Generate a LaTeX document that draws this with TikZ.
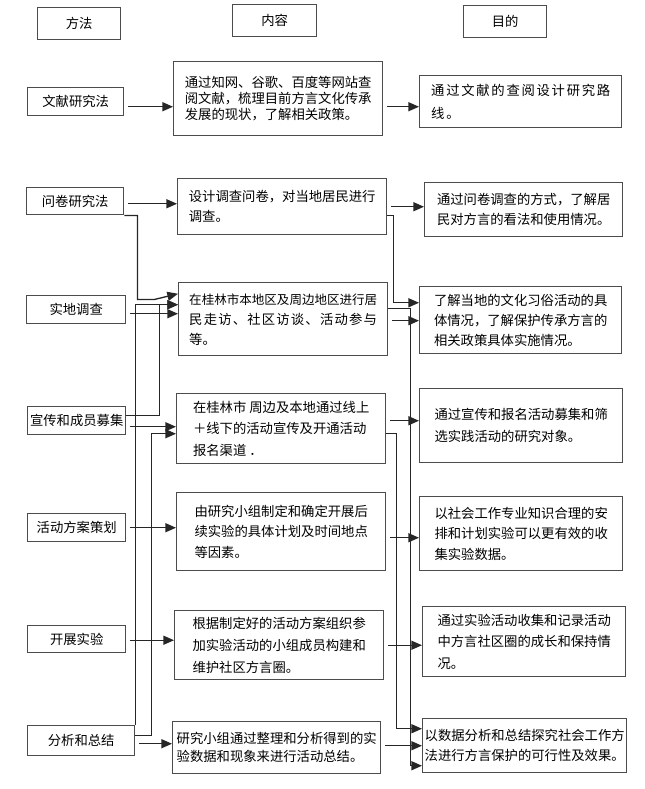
\documentclass[tikz,border=0pt]{standalone}
\usepackage{fontspec}
\setmainfont{Noto Sans CJK SC}
\usetikzlibrary{arrows.meta}
\tikzset{
  box/.style={draw=black!70,line width=1.1pt,anchor=north west,inner sep=0pt,
    align=left,font=\fontsize{10pt}{15pt}\selectfont},
  head/.style={box,align=center},
  arrow/.style={-{Triangle[length=8pt,width=6.8pt]},line width=1pt,draw=black!85},
  gap/.style={shorten <=3pt}
}

\begin{document}
\begin{tikzpicture}[x=0.75pt,y=-0.75pt]
  \useasboundingbox (0,0) rectangle (645,789);
  \node[head,minimum width=62.25pt,minimum height=24pt] (hmethod) at (37,7) {方法};
  \node[head,minimum width=63pt,minimum height=24pt] (hcontent) at (232,4) {内容};
  \node[head,minimum width=62.25pt,minimum height=24pt] (haim) at (463,5) {目的};

  \node[box,minimum width=72pt,minimum height=21pt] (lit) at (27,87) {文献研究法};
  \node[box,minimum width=156.75pt,minimum height=55.5pt,font=\fontsize{10pt}{11.8pt}\selectfont] (litwork) at (173,61)
    {通过知网、谷歌、百度等网站查\\阅文献，梳理目前方言文化传承\\发展的现状，了解相关政策。};
  \node[box,minimum width=151.5pt,minimum height=39pt,font=\fontsize{10pt}{17.25pt}\selectfont\addfontfeature{LetterSpace=13}] (litgoal) at (419,75)
    {通过文献的查阅设计研究路\\线。};

  \node[box,minimum width=72.75pt,minimum height=20.25pt] (quest) at (26,187) {问卷研究法};
  \node[box,minimum width=156.75pt,minimum height=42pt] (questwork) at (177,178)
    {设计调查问卷，对当地居民进行\\调查。};
  \node[box,minimum width=148.5pt,minimum height=40.5pt] (questgoal) at (424,182)
    {通过问卷调查的方式，了解居\\民对方言的看法和使用情况。};

  \node[box,minimum width=74.25pt,minimum height=21pt] (field) at (26,295) {实地调查};
  \node[box,minimum width=156.75pt,minimum height=54.75pt] (fieldwork) at (178,282)
    {{\fontsize{9.4pt}{15pt}\selectfont 在桂林市本地区及周边地区进行居}\\{\addfontfeature{LetterSpace=9}民走访、社区访谈、活动参与}\\等。};
  \node[box,minimum width=151.5pt,minimum height=50.25pt] (fieldgoal) at (419,286)
    {了解当地的文化习俗活动的具\\体情况，了解保护传承方言的\\相关政策具体实施情况。};

  \node[box,minimum width=73.5pt,minimum height=21pt] (recruit) at (27,406) {宣传和成员募集};
  \node[box,minimum width=156.75pt,minimum height=52.5pt,font=\fontsize{10pt}{16.3pt}\selectfont] (recruitwork) at (176,393)
    {在桂林市 周边及本地通过线上\\＋线下的活动宣传及开通活动\\报名渠道 ．};
  \node[box,minimum width=152.25pt,minimum height=55.5pt,font=\fontsize{10pt}{16.3pt}\selectfont] (recruitgoal) at (419,388)
    {通过宣传和报名活动募集和筛\\选实践活动的研究对象。};

  \node[box,minimum width=73.5pt,minimum height=21pt] (plan) at (27,513) {活动方案策划};
  \node[box,minimum width=156.75pt,minimum height=58.5pt,font=\fontsize{10pt}{15.6pt}\selectfont] (planwork) at (176,492)
    {由研究小组制定和确定开展后\\续实验的具体计划及时间地点\\等因素。};
  \node[box,minimum width=152.25pt,minimum height=55.5pt,font=\fontsize{10pt}{15.6pt}\selectfont] (plangoal) at (419,496)
    {以社会工作专业知识合理的安\\排和计划实验可以更有效的收\\集实验数据。};

  \node[box,minimum width=73.5pt,minimum height=20.25pt] (trial) at (27,625) {开展实验};
  \node[box,minimum width=156.75pt,minimum height=51.75pt,font=\fontsize{10pt}{16.3pt}\selectfont] (trialwork) at (174,610)
    {根据制定好的活动方案组织参\\加实验活动的小组成员构建和\\维护社区方言圈。};
  \node[box,minimum width=152.25pt,minimum height=52.5pt,font=\fontsize{10pt}{16.3pt}\selectfont] (trialgoal) at (422,606)
    {通过实验活动收集和记录活动\\中方言社区圈的成长和保持情\\况。};

  \node[box,minimum width=80.25pt,minimum height=22.5pt] (review) at (27,725) {分析和总结};
  \node[box,minimum width=156pt,minimum height=39pt,font=\fontsize{10pt}{13.7pt}\selectfont] (reviewwork) at (172,721)
    {研究小组通过整理和分析得到的实\\验数据和现象来进行活动总结。};
  \node[box,minimum width=153pt,minimum height=40.5pt] (reviewgoal) at (422,718)
    {以数据分析和总结探究社会工作方\\法进行方言保护的可行性及效果。};

  \draw[arrow,gap] ([yshift=-3.75pt]lit.east) -- ([yshift=-3.75pt]lit.east -| litwork.west);
  \draw[arrow,gap] ([yshift=-6pt]litwork.east) -- ([yshift=-6pt]litwork.east -| litgoal.west);
  \draw[arrow,gap] ([yshift=-1.9pt]quest.east) -- ([yshift=-1.9pt]quest.east -| questwork.west);
  \draw[arrow,gap] (questwork.east) -- (questwork.east -| questgoal.west);
  \draw[arrow,gap] ([yshift=-3pt]field.east) -- ([yshift=-3pt]field.east -| fieldwork.west);
  \draw[arrow,gap] ([yshift=-1.1pt]fieldwork.east) -- ([yshift=-1.1pt]fieldwork.east -| fieldgoal.west);
  \draw[arrow,gap] ([yshift=-4.5pt]recruit.east) -- ([yshift=-4.5pt]recruit.east -| recruitwork.west);
  \draw[arrow,gap] ([yshift=6pt]recruitwork.east) -- ([yshift=6pt]recruitwork.east -| recruitgoal.west);
  \draw[arrow,gap] (plan.east) -- (plan.east -| planwork.west);
  \draw[arrow,gap] ([yshift=-4.5pt]planwork.east) -- ([yshift=-4.5pt]planwork.east -| plangoal.west);
  \draw[arrow,gap] ([yshift=-0.75pt]trial.east) -- ([yshift=-0.75pt]trial.east -| trialwork.west);
  \draw[arrow,gap] (trialwork.east) -- (trialwork.east -| trialgoal.west);
  \draw[arrow,gap] ([yshift=-2.25pt]review.east) -- ([yshift=-2.25pt]review.east -| reviewwork.west);
  \draw[arrow,gap] ([yshift=1.5pt]reviewwork.east) -- ([yshift=1.5pt]reviewwork.east -| reviewgoal.west);

  \draw[arrow] (quest.south east) -- ++(13,0) -- ++(0,84) -- ++(17,0) -- ([yshift=19.1pt]fieldwork.west);
  \draw[arrow] (review.north east) |- ([yshift=10.9pt]fieldwork.west);
  \draw[arrow] ([yshift=3.75pt]recruit.east) -- ++(33,0) |- ([yshift=10.9pt]fieldwork.west);
  \draw[arrow] ([yshift=3.75pt]review.east) -- ++(16,0) |- ([yshift=-3.75pt]recruitwork.west);
  \draw[arrow] ([yshift=-6.75pt]questwork.east) -- ++(6,0) |- ([yshift=13.1pt]fieldgoal.west);
  \draw[arrow] ([yshift=7.9pt]fieldwork.east) -- ++(22,0) |- ([yshift=-15pt]reviewgoal.west);
  \draw[arrow] ([yshift=-3.75pt]recruitwork.east) -- ++(10,0) |- ([yshift=12.75pt]reviewgoal.west);
\end{tikzpicture}
\end{document}
